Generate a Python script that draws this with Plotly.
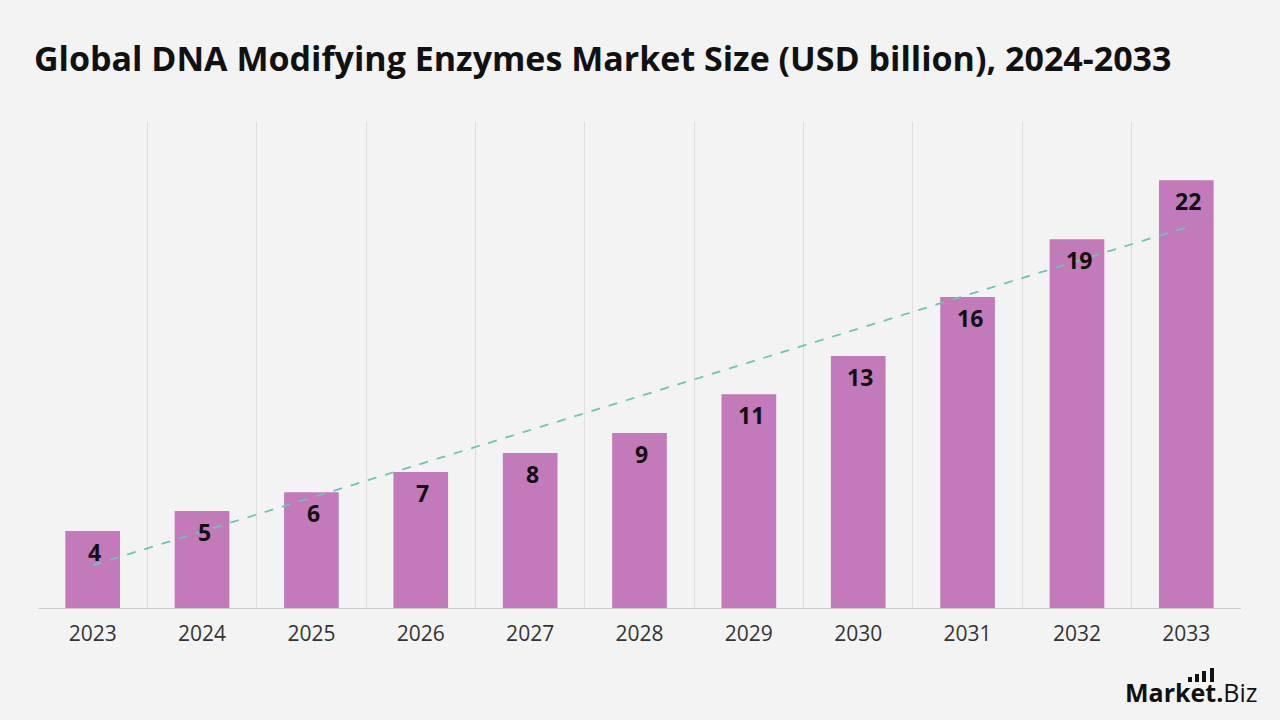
import numpy as np
import plotly.graph_objects as go

years = ["2023", "2024", "2025", "2026", "2027", "2028", "2029", "2030", "2031", "2032", "2033"]
values = [3.96, 4.99, 5.96, 6.99, 7.97, 9.0, 11.0, 12.96, 16.0, 18.97, 22.0]
labels = ["4", "5", "6", "7", "8", "9", "11", "13", "16", "19", "22"]
title_text = "Global DNA Modifying Enzymes Market Size (USD billion), 2024-2033"

BG = "#f3f3f3"
BAR = "#c27aba"
TREND = "#6cc5b5"

# linear trend line fitted to the data
idx = np.arange(len(values))
slope, intercept = np.polyfit(idx, values, 1)
trend = slope * idx + intercept

W, H = 1280, 720
L, R, T, B = 38, 39, 122, 112

def px(x):
    return (x - L) / (W - L - R)

def py(y):
    return (H - B - y) / (H - T - B)

fig = go.Figure()
fig.add_trace(go.Bar(x=years, y=values, marker=dict(color=BAR, line=dict(width=0)),
                     width=0.5, hoverinfo="skip"))
fig.add_trace(go.Scatter(x=years, y=trend, mode="lines",
                         line=dict(color=TREND, width=1.8, dash="dash"), hoverinfo="skip"))

for i, (v, lab) in enumerate(zip(values, labels)):
    fig.add_annotation(x=i, y=v, xref="x", yref="y", text=f"<b>{lab}</b>", showarrow=False,
                       yanchor="middle", yshift=-21, xshift=2,
                       font=dict(family="Open Sans", size=23, color="#111111"))

# title
fig.add_annotation(xref="paper", yref="paper", x=px(32), y=py(58), xanchor="left", yanchor="middle",
                   text=f"<b>{title_text}</b>", showarrow=False,
                   font=dict(family="Open Sans", size=34, color="#111111"))

# logo
fig.add_annotation(xref="paper", yref="paper", x=px(1259), y=py(692), xanchor="right", yanchor="middle",
                   text="<b>Market.</b>Biz", showarrow=False,
                   font=dict(family="Open Sans", size=25, color="#111111"))
for x0, top in [(1188, 677), (1195, 674), (1202, 671), (1210, 668)]:
    fig.add_shape(type="rect", xref="paper", yref="paper",
                  x0=px(x0), x1=px(x0 + 4), y0=py(682), y1=py(top),
                  fillcolor="#111111", line=dict(width=0))

fig.update_layout(
    width=W, height=H,
    paper_bgcolor=BG, plot_bgcolor=BG,
    margin=dict(l=L, r=R, t=T, b=B, pad=0),
    showlegend=False,
    bargap=0.5,
    xaxis=dict(type="category", categoryorder="array", categoryarray=years,
               range=[-0.5, len(years) - 0.5], autorange=False,
               tickson="boundaries", showgrid=True, gridcolor="#dddddd", gridwidth=1,
               ticks="", showline=True, linecolor="#cccccc", linewidth=1, mirror=False,
               tickfont=dict(family="Open Sans", size=21, color="#333333"), ticklabelstandoff=7,
               zeroline=False),
    yaxis=dict(range=[0, 25], showgrid=False, showticklabels=False, zeroline=False, showline=False),
)

fig.write_html("out.html")
